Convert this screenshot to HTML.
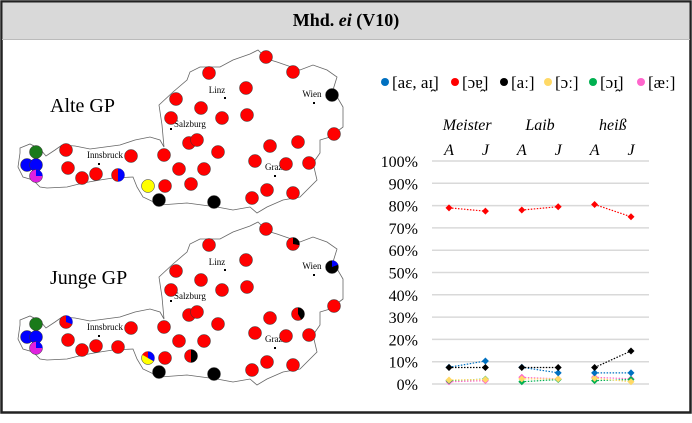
<!DOCTYPE html>
<html><head><meta charset="utf-8"><style>
body{margin:0;background:#fff;width:692px;height:418px;overflow:hidden;font-family:"Liberation Serif",serif}
</style></head><body>
<svg width="692" height="418" xmlns="http://www.w3.org/2000/svg" font-family="Liberation Serif, serif">
<rect x="1.5" y="1.5" width="689" height="411" fill="#fff" stroke="#222" stroke-width="2.5"/>
<rect x="2.5" y="2.5" width="687" height="37" fill="#d9d9d9"/>
<line x1="2" y1="39.5" x2="690" y2="39.5" stroke="#bbb"/>
<text x="346" y="26" text-anchor="middle" font-size="18" font-weight="bold">Mhd. <tspan font-style="italic">ei</tspan> (V10)</text>
<g id="maps"></g>
<g id="legend"></g>
<g id="chart"></g>
</svg>
<script>
const NS="http://www.w3.org/2000/svg";
function mk(p,t,a){const e=document.createElementNS(NS,t);for(const k in a)e.setAttribute(k,a[k]);p.appendChild(e);return e;}
const maps=document.getElementById('maps');
const outline=[[20,148],[30,144],[40,149],[46,156],[55,150],[62,145],[75,146],[90,149],[105,147],[120,145],[135,140],[150,137],[160,140],[164,147],[162,125],[159,105],[173,92],[187,80],[190,72],[200,67],[220,67],[233,60],[250,54],[258,50],[267,59],[277,62],[300,70],[313,65],[327,70],[337,77],[333,90],[343,107],[343,127],[330,137],[320,140],[320,153],[313,163],[317,180],[300,197],[283,200],[267,207],[257,213],[250,207],[233,210],[217,207],[187,203],[160,205],[143,197],[137,187],[133,177],[113,178],[100,180],[83,183],[67,187],[47,188],[40,187],[33,180],[23,177],[18,167],[20,153]];
const cities=[["Linz",225,98,-8,-5,"end"],["Wien",314,103,-2,-6,"end"],["Salzburg",171,129,3,-2,"start"],["Innsbruck",99,164,-12,-6,"start"],["Graz",275,176,-10,-6,"start"]];
const dots=[[266,57],[293,72],[209,73],[246,88],[176,99],[201,108],[222,118],[247,115],[171,118],[332,95],[334,134],[189,143],[197,140],[218,152],[270,146],[298,142],[255,161],[286,164],[309,163],[66,150],[131,156],[164,155],[179,169],[204,169],[68,168],[82,178],[96,174],[118,175],[148,186],[165,186],[191,184],[159,200],[214,202],[252,198],[267,190],[293,193],[36,152],[27,165],[36,165],[36,176]];
const oldCol={9:"#000",28:"#ff0",31:"#000",32:"#000",36:"#1a7a1a",37:"#00f",38:"#00f",39:"#e020e0"};
const newCol={9:"#000",28:"#ff0",31:"#000",32:"#000",36:"#1a7a1a",37:"#00f",38:"#00f",39:"#e020e0"};
function pie(g,cx,cy,r,base,slices){mk(g,'circle',{cx,cy,r,fill:base,stroke:'#333','stroke-width':0.5});
 slices.forEach(([a0,a1,c])=>{const p=(a)=>[cx+r*Math.sin(a*Math.PI/180),cy-r*Math.cos(a*Math.PI/180)];const s=p(a0),e=p(a1);
 mk(g,'path',{d:`M${cx},${cy}L${s[0]},${s[1]}A${r},${r} 0 ${a1-a0>180?1:0} 1 ${e[0]},${e[1]}Z`,fill:c});});}
const specialsOld={27:[[0,180,"#00f"]],39:[[0,90,"#00f"]]};
const specialsNew={1:[[0,100,"#000"]],9:[[0,70,"#00f"]],15:[[0,150,"#000"]],30:[[0,180,"#000"]],28:[[0,120,"#00f"],[-60,0,"#f00"]],19:[[0,110,"#00f"]],39:[[0,90,"#00f"]]};
[[0,"Alte GP",oldCol,specialsOld,"alte"],[172,"Junge GP",newCol,specialsNew,"junge"]].forEach(([dy,lab,cols,sp,nm])=>{
 const g=mk(maps,'g',{transform:`translate(0,${dy})`});
 
 
 const o=mk(g,'polygon',{points:outline.map(p=>p.join(',')).join(' '),fill:'#fff',stroke:'#666','stroke-width':0.8});
 
 
 const t=mk(g,'text',{x:50,y:112,'font-size':20});t.textContent=lab;
 
 
 cities.forEach(([n,x,y,dx,ty,an])=>{mk(g,'rect',{x:x-1,y:y-1,width:2,height:2,fill:'#000'});
  const c=mk(g,'text',{x:x+dx,y:y+ty,'font-size':9,'text-anchor':an==="end"?"middle":"start"});c.textContent=n;
  
  });
 dots.forEach(([x,y],i)=>{const base=cols[i]||"#f00";const d=mk(g,'g',{});
  
  
  pie(d,x,y,6.5,base,sp[i]||[]);});
});
const leg=document.getElementById('legend');
const legItems=[["[aɛ, aɪ̯]","#0070c0",385],["[ɔɐ̯]","#ff0000",455],["[aː]","#000",504],["[ɔː]","#ffd966",548],["[ɔɪ̯]","#00b050",593],["[æː]","#ff66cc",641]];
legItems.forEach(([t,c,x])=>{const g=mk(leg,'g',{});
 
 
 mk(g,'circle',{cx:x,cy:82,r:4,fill:c});const tx=mk(g,'text',{x:x+7,y:88,'font-size':17});tx.textContent=t;});
const words=["Meister","Laib","heiß"];
const groups=["A","J","A","J","A","J"];
const yTicks=[0,10,20,30,40,50,60,70,80,90,100];
const sBlue=[7.5,10.3,7.5,5,5,5];
const sRed=[79,77.5,78,79.5,80.5,75];
const sBlack=[7.4,7.4,7.4,7.4,7.4,14.8];
const sYellow=[1.8,2,2.3,2.3,2.6,1];
const sGreen=[1.5,2.2,1,2,1.5,2];
const sPink=[1,1.5,3,2.3,3,2.3];
const series=[["pink",sPink,"#ff66cc"],["green",sGreen,"#00b050"],["yellow",sYellow,"#ffd966"],["blue",sBlue,"#0070c0"],["black",sBlack,"#000"],["red",sRed,"#ff0000"]];
const ch=document.getElementById('chart');
const yS=v=>384-v*2.23, xS=i=>449+i*36.4;
yTicks.forEach(v=>{const l=mk(ch,'line',{x1:432,x2:649,y1:yS(v),y2:yS(v),stroke:'#d9d9d9','stroke-width':1.5});
 
 
 const t=mk(ch,'text',{x:418,y:yS(v)+6,'font-size':16,'text-anchor':'end'});t.textContent=v+"%";
 
 });
words.forEach((w,k)=>{const t=mk(ch,'text',{x:(xS(2*k)+xS(2*k+1))/2,y:130,'font-size':16,'font-style':'italic','text-anchor':'middle'});t.textContent=w;
 
 });
groups.forEach((gname,i)=>{const t=mk(ch,'text',{x:xS(i),y:155,'font-size':16,'font-style':'italic','text-anchor':'middle'});t.textContent=gname;
 
 });
series.forEach(([n,vals,c])=>{const g=mk(ch,'g',{});
 
 
 for(let k=0;k<3;k++){mk(g,'line',{x1:xS(2*k),y1:yS(vals[2*k]),x2:xS(2*k+1),y2:yS(vals[2*k+1]),stroke:c,'stroke-width':1.2,'stroke-dasharray':'1.5,1.5'});}
 vals.forEach((v,i)=>{const x=xS(i),y=yS(v);const p=mk(g,'polygon',{points:`${x},${y-3.5} ${x+3.5},${y} ${x},${y+3.5} ${x-3.5},${y}`,fill:c});
  
  });
});
</script>
</body></html>
